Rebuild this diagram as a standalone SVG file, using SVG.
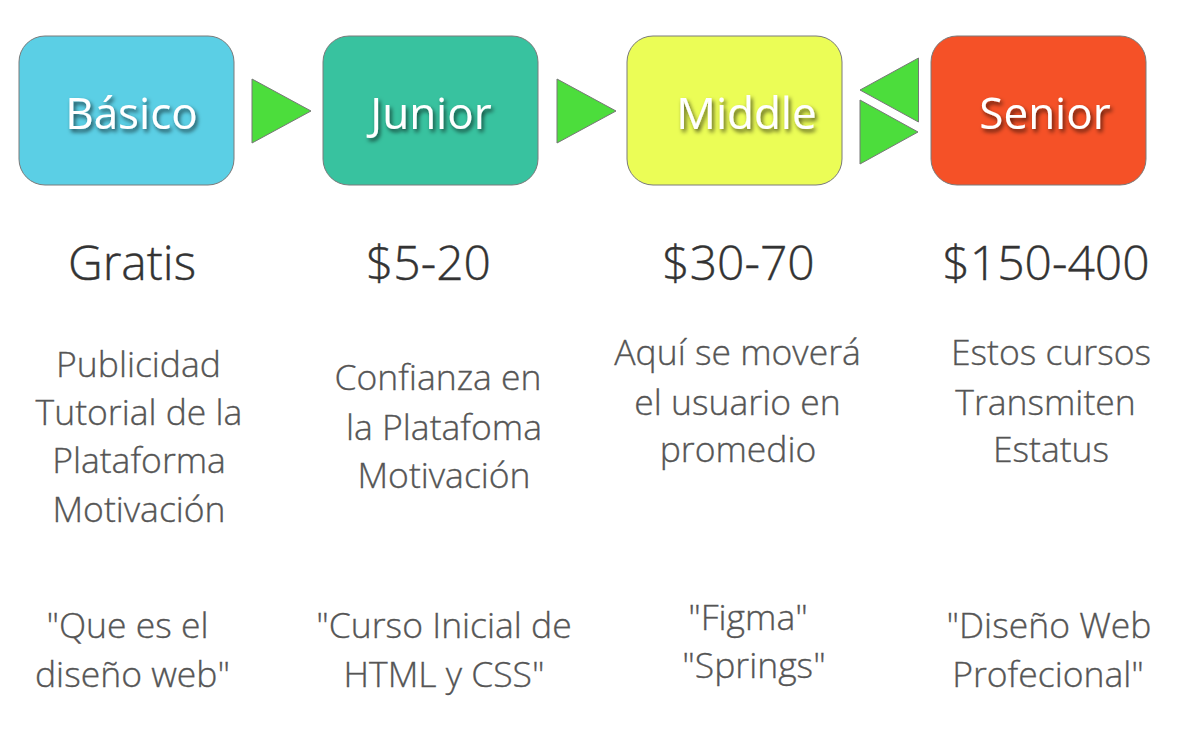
<svg xmlns="http://www.w3.org/2000/svg" width="1185" height="739" viewBox="0 0 1185 739">
<defs>
<filter id="shadow" x="-20%" y="-30%" width="140%" height="170%">
<feGaussianBlur in="SourceAlpha" stdDeviation="2.2" result="b"/>
<feOffset in="b" dx="2" dy="3" result="o"/>
<feFlood flood-color="#000" flood-opacity="0.65"/>
<feComposite in2="o" operator="in" result="s"/>
<feMerge><feMergeNode in="s"/><feMergeNode in="SourceGraphic"/></feMerge>
</filter>
<style>
.box{stroke:#7a7a7a;stroke-width:1}
.lbl{font-family:"Open Sans","Noto Sans","Liberation Sans",sans-serif;font-size:44px;fill:#fff;text-anchor:middle;filter:url(#shadow)}
.price{font-family:"Open Sans","Noto Sans","Liberation Sans",sans-serif;font-weight:300;font-size:48px;fill:#333;text-anchor:middle;stroke:#333;stroke-width:0.4}
.desc{font-family:"Open Sans","Noto Sans","Liberation Sans",sans-serif;font-weight:300;font-size:35.5px;fill:#555;text-anchor:middle;stroke:#555;stroke-width:0.35}
.tri{fill:#4cdd3c;stroke:#777;stroke-width:1}
</style>
</defs>
<rect width="1185" height="739" fill="#fff"/>

<g id="connectors">
<polygon class="tri" points="252,79 252,143 311,111"/>
<polygon class="tri" points="557,79 557,143 616,111"/>
<polygon class="tri" points="918.5,58 918.5,122 860,90"/>
<polygon class="tri" points="860,100 860,164 918,132"/>
</g>

<g id="node-basico">
<rect class="box" x="19" y="36" width="215" height="149" rx="26" fill="#5bcfe5"/>
<text class="lbl" x="131.5" y="129">Básico</text>
<text class="price" x="132" y="280">Gratis</text>
<text class="desc" x="138.5" y="377">Publicidad</text>
<text class="desc" x="139" y="425">Tutorial de la</text>
<text class="desc" x="139" y="473">Plataforma</text>
<text class="desc" x="139" y="522">Motivación</text>
<text class="desc" x="127.5" y="638">"Que es el</text>
<text class="desc" x="132.5" y="687">diseño web"</text>
</g>

<g id="node-junior">
<rect class="box" x="323" y="36" width="215" height="149" rx="26" fill="#38c29f"/>
<text class="lbl" x="431" y="129">Junior</text>
<text class="price" x="428.5" y="280">$5-20</text>
<text class="desc" x="438" y="390">Confianza en</text>
<text class="desc" x="444" y="440">la Platafoma</text>
<text class="desc" x="444" y="488">Motivación</text>
<text class="desc" x="444" y="638">"Curso Inicial de</text>
<text class="desc" x="444" y="687">HTML y CSS"</text>
</g>

<g id="node-middle">
<rect class="box" x="627" y="36" width="215" height="149" rx="26" fill="#ebfd56"/>
<text class="lbl" x="746.5" y="129">Middle</text>
<text class="price" x="738.5" y="280">$30-70</text>
<text class="desc" x="737.5" y="365">Aquí se moverá</text>
<text class="desc" x="737.5" y="415">el usuario en</text>
<text class="desc" x="738" y="462">promedio</text>
<text class="desc" x="748" y="630">"Figma"</text>
<text class="desc" x="754" y="678">"Springs"</text>
</g>

<g id="node-senior">
<rect class="box" x="931" y="36" width="215" height="149" rx="26" fill="#f55127"/>
<text class="lbl" x="1045" y="129">Senior</text>
<text class="price" x="1046" y="280">$150-400</text>
<text class="desc" x="1051" y="365">Estos cursos</text>
<text class="desc" x="1045.5" y="415">Transmiten</text>
<text class="desc" x="1051" y="462">Estatus</text>
<text class="desc" x="1049" y="638">"Diseño Web</text>
<text class="desc" x="1048" y="687">Profecional"</text>
</g>
</svg>
